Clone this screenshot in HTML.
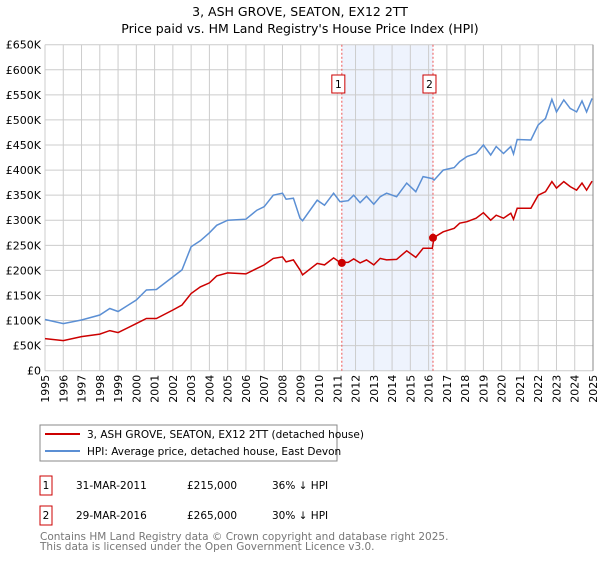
<!DOCTYPE html>
<html><head><meta charset="utf-8"><style>
body{margin:0;background:#fff;font-family:"Liberation Sans","DejaVu Sans",sans-serif}
</style></head><body>
<svg id="c" width="600" height="560" xmlns="http://www.w3.org/2000/svg" font-family="DejaVu Sans, Liberation Sans, sans-serif">
<text x="300" y="16" text-anchor="middle" font-size="12.5">3, ASH GROVE, SEATON, EX12 2TT</text>
<text x="300" y="33" text-anchor="middle" font-size="12.5">Price paid vs. HM Land Registry's House Price Index (HPI)</text>
<g id="grid"></g><g id="marks"></g>
<g>
<rect x="40" y="425" width="297" height="36" fill="#fff" stroke="#888"/>
<line x1="45" y1="434" x2="80" y2="434" stroke="#cc0000" stroke-width="2"/>
<text x="87" y="438" font-size="10.5">3, ASH GROVE, SEATON, EX12 2TT (detached house)</text>
<line x1="45" y1="451" x2="80" y2="451" stroke="#5b8fd4" stroke-width="2"/>
<text x="87" y="455" font-size="10.5">HPI: Average price, detached house, East Devon</text>
</g>
<g font-size="10.5">
<rect x="40" y="476" width="12" height="19" fill="#fff" stroke="#cc0000"/><text x="46" y="489" text-anchor="middle">1</text>
<text x="76" y="489">31-MAR-2011</text><text x="187" y="489">£215,000</text><text x="272" y="489">36% ↓ HPI</text>
<rect x="40" y="506" width="12" height="19" fill="#fff" stroke="#cc0000"/><text x="46" y="519" text-anchor="middle">2</text>
<text x="76" y="519">29-MAR-2016</text><text x="187" y="519">£265,000</text><text x="272" y="519">30% ↓ HPI</text>
</g>
<text x="40" y="540" font-size="10.5" fill="#777">Contains HM Land Registry data © Crown copyright and database right 2025.</text>
<text x="40" y="550" font-size="10.5" fill="#777">This data is licensed under the Open Government Licence v3.0.</text>
</svg>
<script>
const years=[1995,1996,1997,1998,1999,2000,2001,2002,2003,2004,2005,2006,2007,2008,2009,2010,2011,2012,2013,2014,2015,2016,2017,2018,2019,2020,2021,2022,2023,2024,2025];
const yTicks=[0,50,100,150,200,250,300,350,400,450,500,550,600,650];
const yTickLabels=["£0","£50K","£100K","£150K","£200K","£250K","£300K","£350K","£400K","£450K","£500K","£550K","£600K","£650K"];
const hpiDates=[1995.0,1996.0,1997.0,1998.0,1998.55,1999.0,2000.0,2000.55,2001.1,2002.0,2002.5,2003.0,2003.5,2004.0,2004.4,2005.0,2006.0,2006.6,2007.0,2007.5,2008.0,2008.2,2008.6,2008.96,2009.1,2009.9,2010.3,2010.8,2011.15,2011.6,2011.9,2012.25,2012.6,2013.0,2013.35,2013.7,2014.25,2014.8,2015.3,2015.7,2016.2,2016.3,2016.8,2017.4,2017.7,2018.1,2018.6,2019.0,2019.4,2019.7,2020.1,2020.5,2020.65,2020.85,2021.6,2022.0,2022.4,2022.75,2023.0,2023.4,2023.75,2024.1,2024.4,2024.65,2024.95];
const hpiValues=[102,94,101,111,124,118,141,161,162,187,201,247,259,275,290,300,302,320,327,350,354,342,344,304,299,340,330,354,337,339,350,335,348,332,347,354,347,374,357,387,383,380,400,405,417,427,433,450,430,447,433,447,432,461,460,490,503,541,516,540,523,516,538,516,543];
const priceValues=[64,60,68,73,80,76,94,104,104,121,131,154,167,175,189,195,193,204,211,224,227,217,221,201,191,214,211,225,216,216,223,215,221,211,224,221,222,239,226,244,244,266,277,284,294,297,304,315,300,310,304,314,302,324,324,350,357,377,364,377,367,360,374,360,378];
const saleDates=[2011.25,2016.24];
const saleValues=[215,265];
const saleLabels=["1","2"];
const X0=45,X1=593,Y0=370.7,Y1=44.7;
const xs=y=>X0+(y-1995)/30*(X1-X0);
const ys=v=>Y0-v/650*(Y0-Y1);
const NS="http://www.w3.org/2000/svg";
const g=document.getElementById('grid'),m=document.getElementById('marks');
function mk(t,a,p){const e=document.createElementNS(NS,t);for(const k in a)e.setAttribute(k,a[k]);p.appendChild(e);return e;}
const sh=mk('rect',{x:xs(saleDates[0]),y:Y1,width:xs(saleDates[1])-xs(saleDates[0]),height:Y0-Y1,fill:'#eef3fd'},g);


years.forEach(y=>{
 const l=mk('line',{x1:xs(y),x2:xs(y),y1:Y1,y2:Y0,stroke:'#cccccc','stroke-width':1},g);
 
 
 const t=mk('text',{x:0,y:0,'font-size':'11','transform':`translate(${xs(y)+4},${Y0+4}) rotate(-90)`,'text-anchor':'end'},g);
 t.textContent=y;
 
 
});
yTicks.forEach((v,i)=>{
 const l=mk('line',{x1:X0,x2:X1,y1:ys(v),y2:ys(v),stroke:'#cccccc','stroke-width':1},g);
 
 
 const t=mk('text',{x:41,y:ys(v)+4,'font-size':'11','text-anchor':'end'},g);
 t.textContent=yTickLabels[i];
 
 
});
saleDates.forEach((d,i)=>{
 const l=mk('line',{x1:xs(d),x2:xs(d),y1:Y1,y2:Y0,stroke:'#ee5555','stroke-width':1,'stroke-dasharray':'2,2'},m);
 
 
});
const pts=(ds,vs)=>ds.map((d,i)=>xs(d).toFixed(1)+','+ys(vs[i]).toFixed(1)).join(' ');
const hp=mk('polyline',{points:pts(hpiDates,hpiValues),fill:'none',stroke:'#5b8fd4','stroke-width':1.5},m);


const pp=mk('polyline',{points:pts(hpiDates,priceValues),fill:'none',stroke:'#cc0000','stroke-width':1.5},m);


saleDates.forEach((d,i)=>{
 const c=mk('circle',{cx:xs(d),cy:ys(saleValues[i]),r:4,fill:'#cc0000'},m);
 
 
 const r=mk('rect',{x:xs(d)-10,y:75,width:13,height:18,fill:'#fff',stroke:'#cc0000'},m);
 
 
 const t=mk('text',{x:xs(d)-3.5,y:88,'font-size':'10.5','text-anchor':'middle'},m);
 t.textContent=saleLabels[i];
 
 
});
const ax=mk('line',{x1:X1,x2:X1,y1:Y1,y2:Y0,stroke:'#888','stroke-width':1},m);


</script>
</body></html>
